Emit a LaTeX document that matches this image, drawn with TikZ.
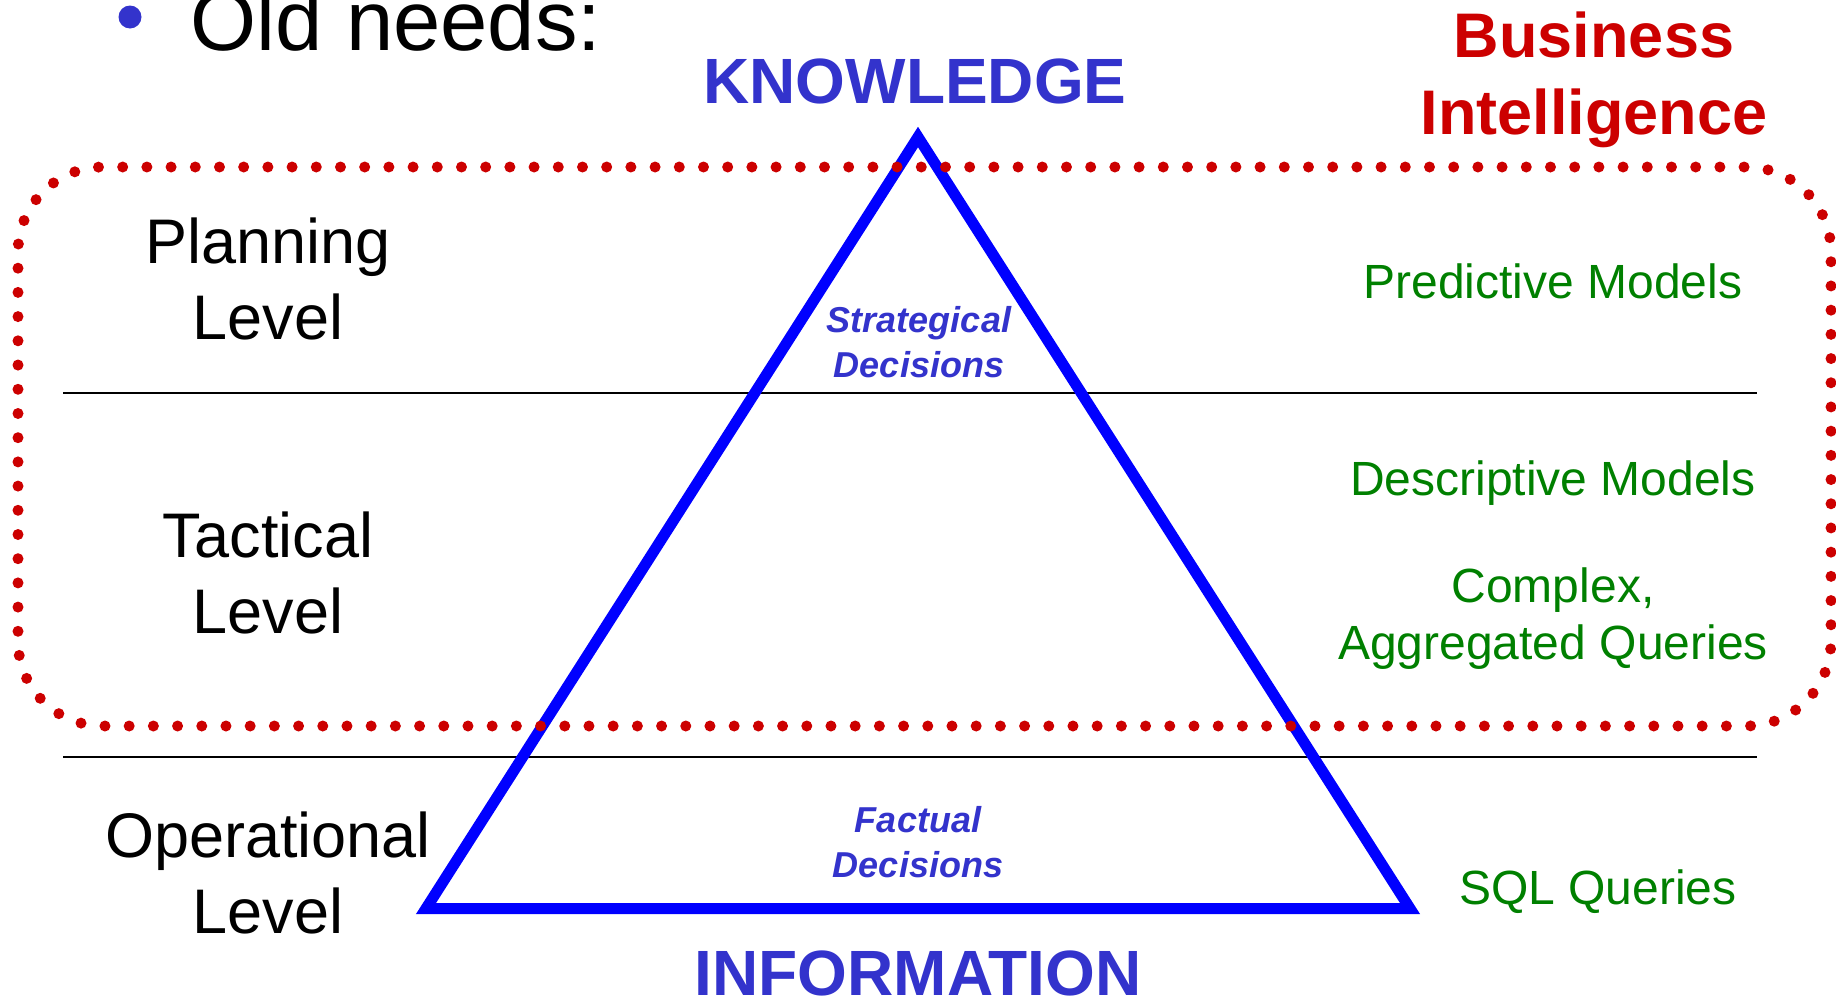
\documentclass[tikz,border=0pt]{standalone}
\usepackage{fontspec}
\setmainfont{Liberation Sans}
\definecolor{lblue}{HTML}{3333CC}
\definecolor{pyrblue}{HTML}{0000FF}
\definecolor{bired}{HTML}{CC0000}
\definecolor{mgreen}{HTML}{008000}
\begin{document}
\begin{tikzpicture}[x=1pt,y=-1pt,
  lvl/.style={font=\fontsize{63}{76}\selectfont, align=center, anchor=base, inner sep=0pt},
  tool/.style={text=mgreen, font=\fontsize{48}{57}\selectfont, align=center, anchor=base, inner sep=0pt},
  decision/.style={text=lblue, font=\fontsize{36}{45}\selectfont\bfseries\itshape, align=center, anchor=base, inner sep=0pt},
  pole/.style={text=lblue, font=\fontsize{64}{77}\selectfont\bfseries, anchor=base, inner sep=0pt},
  bititle/.style={text=bired, font=\fontsize{63}{77}\selectfont\bfseries, align=center, anchor=base, inner sep=0pt},
  divider/.style={draw=black, line width=2pt},
  pyramid/.style={draw=pyrblue, line width=11pt, line join=miter},
  bidots/.style={draw=bired, line width=11pt, line cap=round, dash pattern=on 0pt off 24.2pt, rounded corners=85pt}]
\useasboundingbox (0,0) rectangle (1836,999);

% heading bullet
\node[circle, fill=lblue, minimum size=23pt, inner sep=0pt] (bullet) at (130,17) {};
\node[anchor=base west, inner sep=0pt, font=\fontsize{85}{100}\selectfont] (oldneeds) at (190,50) {Old needs:};

% level dividers
\coordinate (d1w) at (63,393);
\coordinate (d1e) at (1757,393);
\coordinate (d2w) at (63,757);
\coordinate (d2e) at (1757,757);
\draw[divider] (d1w) -- (d1e);
\draw[divider] (d2w) -- (d2e);

% decision pyramid
\coordinate (apex) at (918,137);
\coordinate (bl) at (426,908.5);
\coordinate (br) at (1410,908.5);
\draw[pyramid] (apex) -- (bl) -- (br) -- cycle;

% poles of the pyramid
\node[pole] (knowledge) at (915,103) {KNOWLEDGE};
\node[pole] (information) at (918,995) {INFORMATION};

% decisions inside the pyramid (base = baseline of the last line)
\node[decision] (strategical) at (919,377) {Strategical\\Decisions};
\node[decision] (factual) at (918,877) {Factual\\Decisions};

% management levels
\node[lvl] (planning) at (268,339) {Planning\\Level};
\node[lvl] (tactical) at (268,633) {Tactical\\Level};
\node[lvl] (operational) at (268,933) {Operational\\Level};

% supporting tools
\node[tool] (predictive) at (1553,298) {Predictive Models};
\node[tool] (descriptive) at (1553,495) {Descriptive Models};
\node[tool] (complex) at (1553,659) {Complex,\\Aggregated Queries};
\node[tool] (sql) at (1598,904) {SQL Queries};

% business intelligence area
\node[bititle] (bi) at (1594,134) {Business\\Intelligence};
\draw[bidots] (18,450) -- (18,167) -- (1831,167) -- (1831,726) -- (18,726) -- cycle;
\end{tikzpicture}
\end{document}
